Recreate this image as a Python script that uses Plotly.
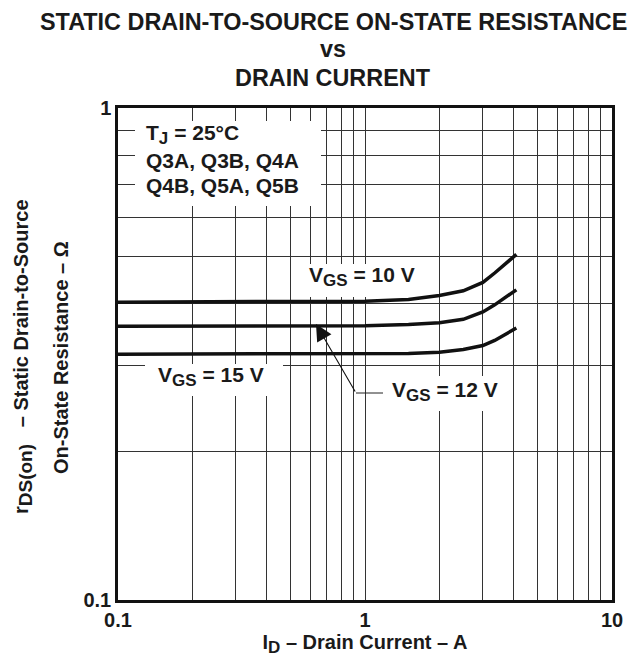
import plotly.graph_objects as go

# ---- data ----
drain_current = [0.1, 1.0, 1.5, 2.0, 2.5, 3.0, 3.35, 4.1]
r_vgs10 = [0.403, 0.405, 0.408, 0.416, 0.425, 0.442, 0.462, 0.504]
r_vgs12 = [0.360, 0.361, 0.363, 0.366, 0.372, 0.385, 0.398, 0.427]
r_vgs15 = [0.316, 0.316, 0.317, 0.319, 0.323, 0.329, 0.337, 0.357]

x_tick_vals = [0.1, 1, 10]
x_tick_text = ["0.1", "1", "10"]
y_tick_vals = [0.1, 1]
y_tick_text = ["0.1", "1"]
x_minor = [0.2, 0.3, 0.4, 0.5, 0.6, 0.7, 0.8, 0.9, 2, 3, 4, 5, 6, 7, 8, 9]
y_minor = [0.2, 0.3, 0.4, 0.5, 0.6, 0.7, 0.8, 0.9]

FONT = "Liberation Sans, Arial, Helvetica, sans-serif"
TXT = "#1a1a1a"
GRID = "#333333"

W, H = 638, 660
L, R, T, B = 110, 604, 100, 592
PW, PH = R - L, B - T


def fx(px):
    return (px - L) / PW


def fy(py):
    return (B - py) / PH


def xd(px):  # pixel -> data value on the log x axis (for shapes)
    return 10 ** (-1 + 2 * fx(px))


def yd(py):  # pixel -> data value on the log y axis (for shapes)
    return 10 ** (-1 + fy(py))


fig = go.Figure()
for ys in (r_vgs10, r_vgs12, r_vgs15):
    fig.add_trace(go.Scatter(x=drain_current, y=ys, mode="lines",
                             line=dict(color="#111111", width=3.5),
                             showlegend=False, hoverinfo="skip"))

# white boxes hiding the grid behind labels
boxes = [(127, 113, 313, 198), (292, 256, 425, 289),
         (137, 356, 275, 388), (375, 368, 500, 403)]
for x0, y0, x1, y1 in boxes:
    fig.add_shape(type="rect", xref="x", yref="y",
                  x0=xd(x0), x1=xd(x1), y0=yd(y1), y1=yd(y0),
                  fillcolor="white", line=dict(width=0), layer="between")

# leader horizontal segment
fig.add_shape(type="line", xref="x", yref="y",
              x0=xd(348), x1=xd(375), y0=yd(385), y1=yd(385),
              line=dict(color="#222", width=1), layer="above")


def label(text, px, py, xanchor="left", size=21, textangle=0):
    fig.add_annotation(text=text, x=fx(px), y=fy(py), xref="x domain", yref="y domain",
                       xanchor=xanchor, yanchor="middle", showarrow=False,
                       textangle=textangle,
                       font=dict(family=FONT, size=size, color=TXT, weight="bold"))


def sub(s, size=17):
    return '<sub><span style="font-size:%dpx">%s</span></sub>' % (size, s)


label("T" + sub("J") + " = 25°C", 136, 126)
label("Q3A, Q3B, Q4A", 136, 153)
label("Q4B, Q5A, Q5B", 136, 177)
label("V" + sub("GS") + " = 10 V", 299, 268)
label("V" + sub("GS") + " = 15 V", 148, 368)
label("V" + sub("GS") + " = 12 V", 382, 384)

# arrow to VGS = 12 V curve
fig.add_annotation(text="", x=fx(308), y=fy(316), xref="x domain", yref="y domain",
                   showarrow=True, ax=40, ay=69, arrowhead=2, arrowsize=3,
                   arrowwidth=1.1, arrowcolor="#111")

# titles
for t, py in (("STATIC DRAIN-TO-SOURCE ON-STATE RESISTANCE", 14),
              ("vs", 41), ("DRAIN CURRENT", 70)):
    label(t, 325, py, xanchor="center", size=23.4)

# y-axis title (two lines)
label("r" + sub("DS(on)", 19) + "&nbsp;&nbsp;&nbsp;– Static Drain-to-Source", 15, 349,
      xanchor="center", size=20, textangle=-90)
label("On-State Resistance – Ω", 53, 350, xanchor="center", size=20, textangle=-90)

fig.update_xaxes(type="log", range=[-1, 1], tickvals=x_tick_vals, ticktext=x_tick_text,
                 showgrid=True, gridcolor=GRID, gridwidth=1, ticks="",
                 showline=True, linecolor="#111", linewidth=2.5, mirror=True,
                 minor=dict(tickvals=x_minor, showgrid=True, gridcolor=GRID, gridwidth=1, ticks=""),
                 tickfont=dict(family=FONT, size=20, color=TXT, weight="bold"),
                 title=dict(text="I" + sub("D") + " – Drain Current – A", standoff=6,
                            font=dict(family=FONT, size=20, color=TXT, weight="bold")),
                 zeroline=False)
fig.update_yaxes(type="log", range=[-1, 0], tickvals=y_tick_vals, ticktext=y_tick_text,
                 showgrid=False, ticks="",
                 showline=True, linecolor="#111", linewidth=2.5, mirror=True,
                 minor=dict(tickvals=y_minor, showgrid=True, gridcolor=GRID, gridwidth=1, ticks=""),
                 tickfont=dict(family=FONT, size=20, color=TXT, weight="bold"),
                 zeroline=False)

fig.update_layout(width=W, height=H, margin=dict(l=L, r=W - R, t=T, b=H - B),
                  plot_bgcolor="white", paper_bgcolor="white",
                  font=dict(family=FONT, color=TXT))

fig.write_html("out.html")
